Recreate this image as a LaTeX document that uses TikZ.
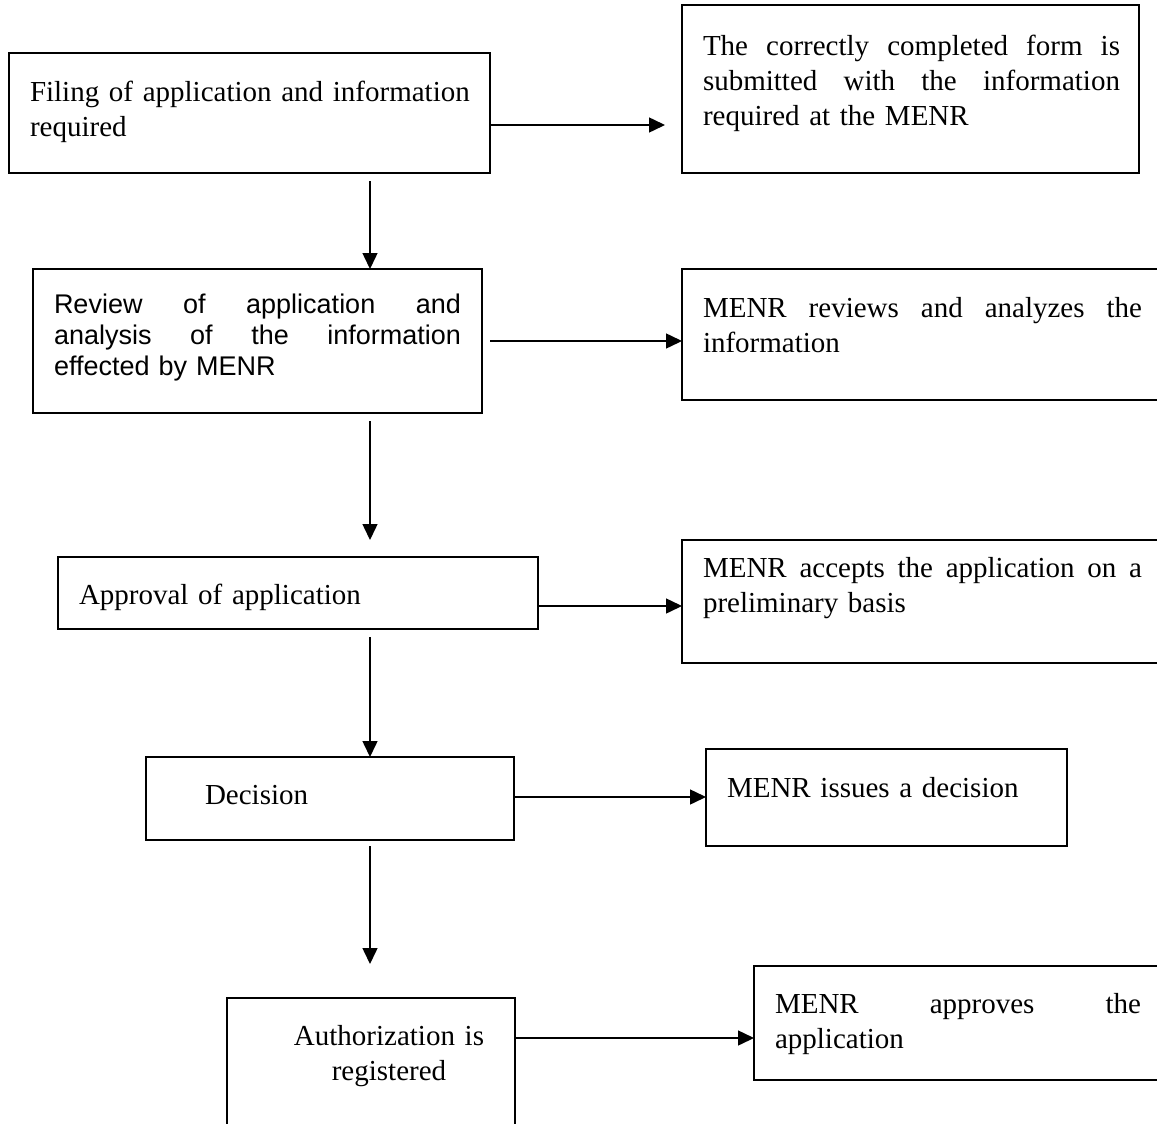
\documentclass[tikz,border=0pt]{standalone}
\usepackage{fontspec}
\setmainfont{Liberation Serif}
\newfontfamily\sansfam{Liberation Sans}
\usetikzlibrary{arrows.meta}
\begin{document}
\begin{tikzpicture}[x=1pt,y=-1pt,
  box/.style={draw, line width=1.5pt, inner sep=0pt, outer sep=0pt, anchor=north west},
  txt/.style={inner sep=0pt, outer sep=0pt, anchor=base west, align=left, text width=470pt,
    font=\fontsize{29}{35}\selectfont},
  stxt/.style={txt, font=\sansfam\fontsize{27}{31}\selectfont},
  arr/.style={line width=1.5pt, -{Triangle[length=16pt,width=15pt]}}]
\useasboundingbox (0,0) rectangle (1157,1124);
\clip (0,0) rectangle (1157,1124);
\fill[white] (0,0) rectangle (1157,1124);

% left column boxes
\node[box, minimum width=481pt, minimum height=120pt] (b1) at (9,53) {};
\node[box, minimum width=449pt, minimum height=144pt] (b2) at (33,269) {};
\node[box, minimum width=480pt, minimum height=72pt] (b3) at (58,557) {};
\node[box, minimum width=368pt, minimum height=83pt] (b4) at (146,757) {};
\node[box, minimum width=288pt, minimum height=140pt] (b5) at (227,998) {};

% right column boxes
\node[box, minimum width=457pt, minimum height=168pt] (r1) at (682,5) {};
\node[box, minimum width=490pt, minimum height=131pt] (r2) at (682,269) {};
\node[box, minimum width=490pt, minimum height=123pt] (r3) at (682,540) {};
\node[box, minimum width=361pt, minimum height=97pt] (r4) at (706,749) {};
\node[box, minimum width=420pt, minimum height=114pt] (r5) at (754,966) {};

% texts
\node[txt] (t1) at (30,102) {Filing of application and information\\required};
\node[stxt] (t2) at (54,313) {\makebox[407pt]{Review\hfill of\hfill application\hfill and}\\
  \makebox[407pt]{analysis\hfill of\hfill the\hfill information}\\effected by MENR};
\node[txt] (t3) at (79,604) {Approval of application};
\node[txt] (t4) at (205,804) {Decision};
\node[txt, anchor=base, align=center, text width=260pt] (t5) at (389,1045) {Authorization is\\registered};

\node[txt] (u1) at (703,56) {\makebox[417pt]{The\hfill correctly\hfill completed\hfill form\hfill is}\\
  \makebox[417pt]{submitted\hfill with\hfill the\hfill information}\\required at the MENR};
\node[txt] (u2) at (703,317) {\makebox[439pt]{MENR\hfill reviews\hfill and\hfill analyzes\hfill the}\\information};
\node[txt] (u3) at (703,577) {\makebox[439pt]{MENR\hfill accepts\hfill the\hfill application\hfill on\hfill a}\\preliminary basis};
\node[txt] (u4) at (727,797) {MENR issues a decision};
\node[txt] (u5) at (775,1013) {\makebox[366pt]{MENR\hfill approves\hfill the}\\application};

% horizontal connectors
\coordinate (h1e) at (665,125);
\draw[arr] (b1.east |- h1e) -- (h1e);
\coordinate (h2s) at (490,341);
\draw[arr] (h2s) -- (h2s -| r2.west);
\coordinate (h3) at (600,606);
\draw[arr] (b3.east |- h3) -- (r3.west |- h3);
\coordinate (h4) at (600,797);
\draw[arr] (b4.east |- h4) -- (r4.west |- h4);
\coordinate (h5) at (600,1038);
\draw[arr] (b5.east |- h5) -- (r5.west |- h5);

% vertical connectors
\coordinate (v1s) at (370,181);
\draw[arr] (v1s) -- (v1s |- b2.north);
\coordinate (v2s) at (370,421);
\coordinate (v2e) at (370,540);
\draw[arr] (v2s) -- (v2e);
\coordinate (v3s) at (370,637);
\draw[arr] (v3s) -- (v3s |- b4.north);
\coordinate (v4s) at (370,846);
\coordinate (v4e) at (370,964);
\draw[arr] (v4s) -- (v4e);
\end{tikzpicture}
\end{document}
